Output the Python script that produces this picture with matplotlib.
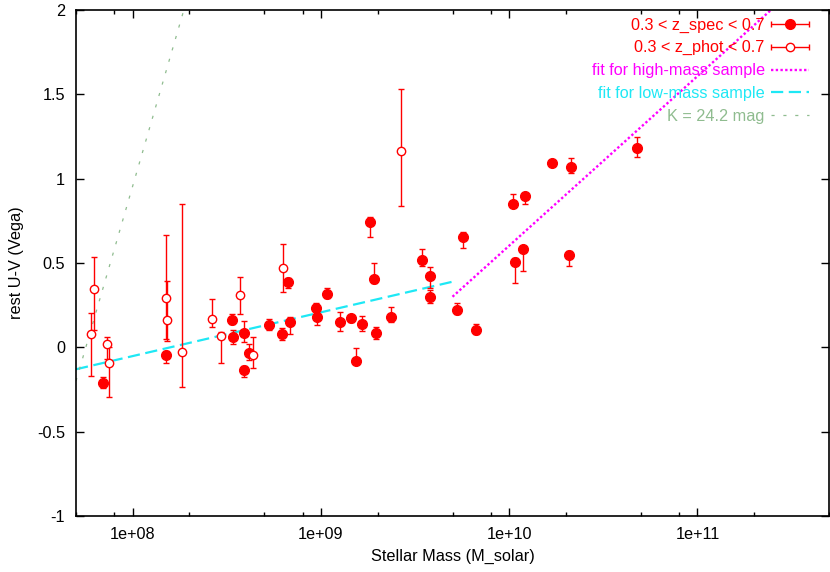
import numpy as np
import matplotlib
matplotlib.use("Agg")
import matplotlib.pyplot as plt
from matplotlib.ticker import LogLocator, FuncFormatter, MultipleLocator, NullFormatter
from matplotlib.legend_handler import HandlerErrorbar
from matplotlib.container import ErrorbarContainer

plt.rcParams['font.family'] = ['Liberation Sans', 'DejaVu Sans']
plt.rcParams['font.size'] = 11.7

# spectroscopic sample: mass, U-V, lower bar end, upper bar end
spec_mass = [6.98e7, 1.51e8, 3.36e8, 3.40e8, 3.92e8, 3.92e8, 4.17e8, 5.32e8, 6.2e8,
             6.67e8, 6.81e8, 9.44e8, 9.57e8, 1.08e9, 1.26e9, 1.45e9, 1.54e9, 1.66e9,
             1.83e9, 1.91e9, 1.96e9, 2.37e9, 3.45e9, 3.78e9, 3.78e9, 5.27e9, 5.68e9,
             6.65e9, 1.047e10, 1.07e10, 1.18e10, 1.22e10, 1.69e10, 2.07e10, 2.12e10, 4.79e10]
spec_uv = [-0.213, -0.046, 0.164, 0.063, 0.083, -0.136, -0.036, 0.134, 0.077,
           0.389, 0.148, 0.231, 0.181, 0.318, 0.152, 0.174, -0.079, 0.14,
           0.741, 0.403, 0.083, 0.178, 0.518, 0.425, 0.30, 0.221, 0.656,
           0.103, 0.848, 0.506, 0.581, 0.897, 1.094, 0.549, 1.067, 1.18]
spec_lo = [-0.24, -0.091, 0.14, 0.02, 0.033, -0.174, -0.075, 0.103, 0.043,
           0.35, 0.077, 0.2, 0.132, 0.29, 0.097, 0.15, -0.1, 0.097,
           0.656, 0.38, 0.047, 0.15, 0.482, 0.35, 0.264, 0.2, 0.587,
           0.08, 0.83, 0.383, 0.454, 0.849, 1.08, 0.482, 1.031, 1.126]
spec_hi = [-0.174, -0.02, 0.197, 0.103, 0.154, -0.11, 0.018, 0.166, 0.113,
           0.41, 0.181, 0.264, 0.2, 0.35, 0.211, 0.19, -0.002, 0.187,
           0.774, 0.502, 0.122, 0.241, 0.581, 0.478, 0.34, 0.26, 0.685,
           0.138, 0.907, 0.53, 0.6, 0.913, 1.11, 0.57, 1.12, 1.245]

# photometric sample
phot_mass = [6.0e7, 6.25e7, 7.33e7, 7.48e7, 1.51e8, 1.52e8, 1.83e8, 2.63e8, 2.94e8,
             3.72e8, 4.37e8, 6.27e8, 2.66e9]
phot_uv = [0.077, 0.347, 0.018, -0.095, 0.29, 0.162, -0.026, 0.166, 0.067,
           0.308, -0.046, 0.468, 1.165]
phot_lo = [-0.168, 0.1, -0.07, -0.296, 0.05, 0.037, -0.237, 0.122, -0.095,
           0.197, -0.125, 0.33, 0.838]
phot_hi = [0.205, 0.537, 0.059, 0.0, 0.666, 0.393, 0.849, 0.285, 0.089,
           0.418, 0.063, 0.612, 1.529]

# fit lines and K limit (end points)
hifit_mass = [5e9, 5e11]
hifit_uv = [0.30, 2.31]
lowfit_mass = [5e7, 5e9]
lowfit_uv = [-0.13, 0.389]
klim_mass = [5e7, 1.87e8]
klim_uv = [-0.2, 2.0]

RED = '#ff0000'
MAG = '#ff00ff'
CYAN = '#1ee8f5'
KCOL = '#8fbc8f'


def errs(v, lo, hi):
    v = np.array(v)
    return [v - np.array(lo), np.array(hi) - v]


fig = plt.figure(figsize=(8.3, 5.72), dpi=100)
ax = fig.add_axes([76 / 830, 1 - 516 / 572, 753 / 830, 506 / 572])

ax.plot(hifit_mass, hifit_uv, color=MAG, lw=1.7, dashes=(1, 1.0))
ax.plot(lowfit_mass, lowfit_uv, color=CYAN, lw=1.6, dashes=(5.5, 2.5))
ax.plot(klim_mass, klim_uv, color=KCOL, lw=0.9, dashes=(2.5, 7))

ax.errorbar(spec_mass, spec_uv, yerr=errs(spec_uv, spec_lo, spec_hi), fmt='o',
            color=RED, ms=7, elinewidth=1, capsize=2.5, capthick=1)
ax.errorbar(phot_mass, phot_uv, yerr=errs(phot_uv, phot_lo, phot_hi), fmt='o',
            color=RED, mfc='white', mec=RED, mew=1, ms=6, elinewidth=1,
            capsize=2.5, capthick=1)

# legend proxies with horizontal bars, as in the original
h_spec = ax.errorbar([np.nan], [np.nan], xerr=[np.nan], fmt='o', color=RED, ms=7,
                     elinewidth=1, capsize=2.5, capthick=1)
h_phot = ax.errorbar([np.nan], [np.nan], xerr=[np.nan], fmt='o', color=RED,
                     mfc='white', mec=RED, mew=1, ms=6, elinewidth=1,
                     capsize=2.5, capthick=1)
h_hi, = ax.plot([], [], color=MAG, lw=1.7, dashes=(1, 1.0))
h_low, = ax.plot([], [], color=CYAN, lw=1.6, dashes=(5.5, 2.5))
h_k, = ax.plot([], [], color=KCOL, lw=0.9, dashes=(2.5, 7))

leg = ax.legend([h_spec, h_phot, h_hi, h_low, h_k],
                ['0.3 < z_spec < 0.7', '0.3 < z_phot < 0.7', 'fit for high-mass sample',
                 'fit for low-mass sample', 'K = 24.2 mag'],
                loc='upper right', bbox_to_anchor=(1 - 9 / 753, 1 + 4 / 506),
                markerfirst=False, frameon=False,
                handlelength=2.3, handletextpad=0.4, labelspacing=0.48,
                borderaxespad=0.3, fontsize=11.7,
                labelcolor=[RED, RED, MAG, CYAN, KCOL],
                handler_map={ErrorbarContainer: HandlerErrorbar(xerr_size=1.15)})

ax.set_xscale('log')
ax.set_xlim(5e7, 5e11)
ax.set_ylim(-1, 2)
ax.xaxis.set_major_locator(LogLocator(base=10))
ax.xaxis.set_minor_locator(LogLocator(base=10, subs=(2, 5, 8)))
ax.xaxis.set_minor_formatter(NullFormatter())
ax.xaxis.set_major_formatter(FuncFormatter(lambda v, p: f"{v:.0e}"))
ax.yaxis.set_major_locator(MultipleLocator(0.5))
ax.yaxis.set_major_formatter(FuncFormatter(lambda v, p: f"{v:g}"))
ax.tick_params(which='both', direction='in', top=True, right=True)
ax.tick_params(which='major', length=6, width=1, pad=8)
ax.tick_params(which='minor', length=3, width=1)
for s in ax.spines.values():
    s.set_linewidth(1.2)

ax.set_xlabel('Stellar Mass (M_solar)', labelpad=5)
ax.set_ylabel('rest U-V (Vega)', labelpad=9)

fig.savefig('out.png', dpi=100)
